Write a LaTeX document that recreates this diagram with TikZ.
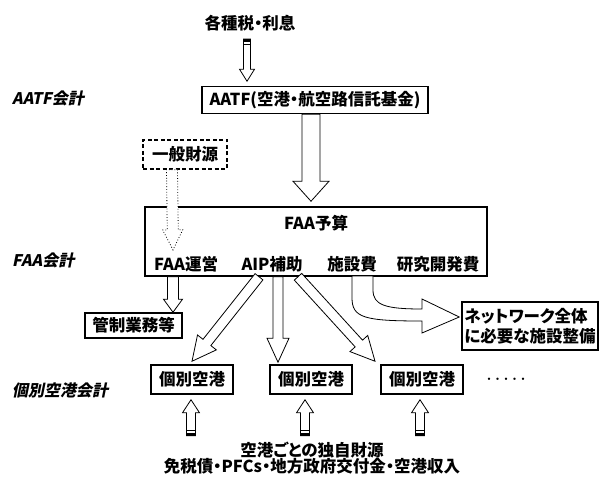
\documentclass[tikz,border=0pt]{standalone}
\usepackage{fontspec}
\newfontfamily\jp[RawFeature=+palt]{Noto Sans CJK JP}
\newfontfamily\jpfw{Noto Sans CJK JP}
\newfontfamily\jpsl[FakeSlant=0.2,RawFeature=+palt]{Noto Sans CJK JP}
\usetikzlibrary{calc}

% hollow block arrow: [style]{from}{to}{shaft half width}{head half width}{head length}
\newcommand{\blockarr}[6][]{%
  \coordinate (ba-s) at (#2);%
  \coordinate (ba-t) at (#3);%
  \coordinate (ba-h) at ($(ba-t)!#6!(ba-s)$);%
  \draw[blockarrow,#1] ($(ba-s)!#4!90:(ba-t)$) -- ($(ba-h)!#4!-90:(ba-s)$)
    -- ($(ba-h)!#5!-90:(ba-s)$) -- (ba-t) -- ($(ba-h)!#5!90:(ba-s)$)
    -- ($(ba-h)!#4!90:(ba-s)$) -- ($(ba-s)!#4!-90:(ba-t)$) -- cycle;%
}
% dark band at the tail of a block arrow: {from}{to}{half width}
\newcommand{\tailband}[3]{%
  \coordinate (tb-s) at (#1);%
  \coordinate (tb-t) at (#2);%
  \coordinate (tb-m) at ($(tb-s)!2.5pt!(tb-t)$);%
  \coordinate (tb-l) at ($(tb-s)!5pt!(tb-t)$);%
  \fill ($(tb-s)!#3!90:(tb-t)$) -- ($(tb-s)!#3!-90:(tb-t)$)
    -- ($(tb-m)!#3!90:(tb-s)$) -- ($(tb-m)!#3!-90:(tb-s)$) -- cycle;%
  \draw[line width=0.6pt] ($(tb-l)!#3!90:(tb-s)$) -- ($(tb-l)!#3!-90:(tb-s)$);%
}

\tikzset{
  txt/.style={inner sep=0pt,font=\jp\bfseries\fontsize{16.5}{18}\selectfont},
  box/.style={draw,line width=1.5pt,inner sep=0pt,font=\jp\bfseries\fontsize{16.5}{20}\selectfont},
  acclabel/.style={anchor=west,inner sep=0pt,font=\jpsl\bfseries\fontsize{16}{18}\selectfont},
  blockarrow/.style={draw,fill=white,line width=0.8pt,line join=miter},
  airport/.style={box,minimum width=82pt,minimum height=29pt},
}

\begin{document}
\begin{tikzpicture}[x=1pt,y=-1pt]
      \useasboundingbox (0,0) rectangle (604,478);%

      \node[txt] (taxes) at (250,23) {各種税・利息};%
      \node[box,minimum width=226pt,minimum height=27pt] (aatf) at (315,100) {AATF(空港・航空路信託基金)};%
      \node[box,dash pattern=on 4pt off 2.5pt,minimum width=84pt,minimum height=29pt] (general) at (185,154.5) {一般財源};%

      \node[box,minimum width=342pt,minimum height=69pt] (faa) at (316,241.5) {};%
      \node[txt] (budget) at (316,223) {FAA予算};%
      \node[txt] (ops) at (186,264) {FAA運営};%
      \node[txt] (aip) at (272,264) {AIP補助};%
      \node[txt] (facil) at (352,264) {施設費};%
      \node[txt] (rnd) at (438,264) {研究開発費};%

      \node[box,minimum width=97pt,minimum height=25pt] (ctrl) at (133.5,325.5) {管制業務等};%
      \node[box,align=left,minimum width=136pt,minimum height=48pt] (net) at (530,326) {ネットワーク全体\\に必要な施設整備};%

      \node[airport] (ap1) at (192,379.5) {個別空港};%
      \node[airport] (ap2) at (311,379.5) {個別空港};%
      \node[airport] (ap3) at (422,379.5) {個別空港};%
      \node[txt,font=\jpfw\bfseries\fontsize{8.5}{10}\selectfont] (more) at (506,380) {・・・・・};%

      \node[txt,align=center,font=\jp\bfseries\fontsize{16.5}{16.5}\selectfont] (own) at (312,458) {空港ごとの独自財源\\免税債・PFCs・地方政府交付金・空港収入};%

      \node[acclabel] (aatfacc) at (12,98) {AATF会計};%
      \node[acclabel] (faaacc) at (12,260) {FAA会計};%
      \node[acclabel] (apacc) at (12,390) {個別空港会計};%

      \coordinate (opsout) at (ops.south |- faa.south);%
      \coordinate (aipout) at (aip.south |- faa.south);%
      \coordinate (nettip) at ([xshift=-2pt,yshift=9pt]net.west);%

      \blockarr{[xshift=-3pt,yshift=-8pt]taxes.south}{[xshift=-68pt,yshift=4.5pt]aatf.north}{3.5pt}{7.5pt}{12pt}%
      \tailband{[xshift=-3pt,yshift=-8pt]taxes.south}{[xshift=-68pt,yshift=4.5pt]aatf.north}{3.5pt}%
      \blockarr{[xshift=-4pt]aatf.south}{[xshift=-5pt,yshift=5pt]faa.north}{9pt}{18pt}{20pt}%
      \blockarr[dotted]{[xshift=-13pt]general.south}{[xshift=-13pt,yshift=6pt]ops.north}{5.5pt}{10pt}{20pt}%

      \blockarr{[xshift=-13pt]opsout}{[xshift=39.5pt]ctrl.north}{5.5pt}{9.5pt}{13pt}%
      \blockarr{[xshift=-13pt]aipout}{[yshift=3pt]ap1.north}{5pt}{12pt}{24pt}%
      \blockarr{[xshift=6pt]aipout}{[xshift=-33pt,yshift=2pt]ap2.north}{5pt}{11pt}{24pt}%
      \blockarr{[xshift=26pt]aipout}{[xshift=-47pt,yshift=3pt]ap3.north}{5pt}{12pt}{24pt}%

      \draw[blockarrow] (352,276) -- (352,298) .. controls (352,318) and (365,321) .. (422,321)
        -- (422,333) -- (nettip) -- (422,299) -- (422,309)
        .. controls (385,309) and (373,305) .. (373,290) -- (373,276) -- cycle;%

      \blockarr{[xshift=-1pt,yshift=-41pt]ap1.south}{[xshift=-1pt,yshift=-5pt]ap1.south}{4.5pt}{8.5pt}{13pt}%
      \tailband{[xshift=-1pt,yshift=-41pt]ap1.south}{[xshift=-1pt,yshift=-5pt]ap1.south}{4.5pt}%
      \blockarr{[xshift=-6pt,yshift=-41pt]ap2.south}{[xshift=-6pt,yshift=-5pt]ap2.south}{4.5pt}{8.5pt}{13pt}%
      \tailband{[xshift=-6pt,yshift=-41pt]ap2.south}{[xshift=-6pt,yshift=-5pt]ap2.south}{4.5pt}%
      \blockarr{[xshift=-2pt,yshift=-41pt]ap3.south}{[xshift=-2pt,yshift=-5pt]ap3.south}{4.5pt}{8.5pt}{13pt}%
      \tailband{[xshift=-2pt,yshift=-41pt]ap3.south}{[xshift=-2pt,yshift=-5pt]ap3.south}{4.5pt}%
    \end{tikzpicture}
\end{document}
